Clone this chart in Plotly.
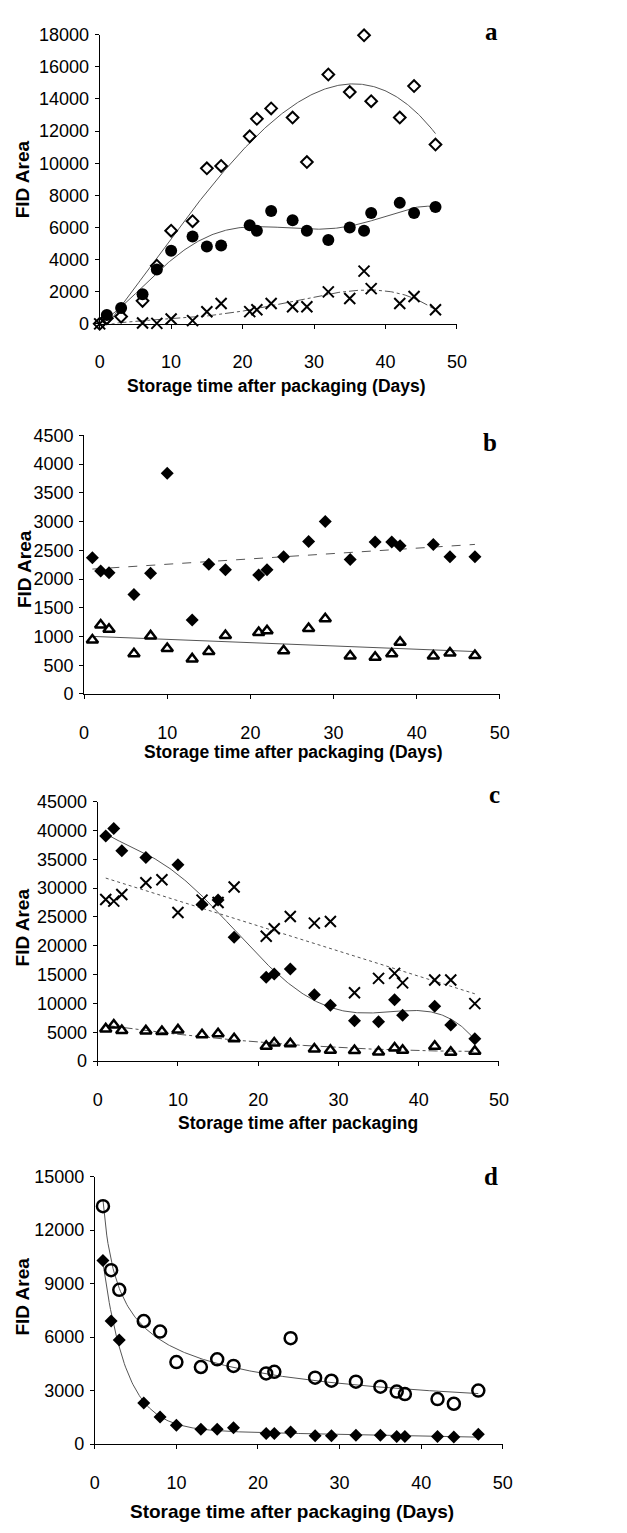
import numpy as np
import plotly.graph_objects as go

W, H = 627, 1533

# ---------------- data ----------------
# Panel a
a_days_diamond = [0, 1, 3, 6, 8, 10, 13, 15, 17, 21, 22, 24, 27, 29, 32, 35, 37, 38, 42, 44, 47]
a_diamond = [0, 350, 450, 1430, 3620, 5800, 6390, 9680, 9830, 11670, 12760, 13410, 12840, 10070,
             15520, 14430, 17960, 13860, 12840, 14800, 11160]
a_days_circle = [1, 3, 6, 8, 10, 13, 15, 17, 21, 22, 24, 27, 29, 32, 35, 37, 38, 42, 44, 47]
a_circle = [550, 980, 1840, 3380, 4550, 5430, 4810, 4870, 6140, 5790, 7020, 6450, 5790, 5220,
            6000, 5790, 6900, 7530, 6900, 7270]
a_days_cross = [0, 6, 8, 10, 13, 15, 17, 21, 22, 24, 27, 29, 32, 35, 37, 38, 42, 44, 47]
a_cross = [0, 50, 30, 300, 200, 750, 1270, 760, 880, 1270, 1060, 1060, 1990, 1580, 3280, 2190,
           1270, 1700, 880]

days = [1, 2, 3, 6, 8, 10, 13, 15, 17, 21, 22, 24, 27, 29, 32, 35, 37, 38, 42, 44, 47]

# Panel b
b_diamond = [2370, 2140, 2110, 1730, 2100, 3840, 1285, 2256, 2160, 2070, 2160, 2390, 2655, 3000,
             2340, 2645, 2645, 2580, 2600, 2390, 2390]
b_triangle = [940, 1200, 1125, 700, 1010, 790, 610, 740, 1016, 1070, 1100, 750, 1140, 1310,
              660, 640, 700, 900, 660, 714, 670]

# Panel c
c_days_diamond = [1, 2, 3, 6, 10, 13, 15, 17, 21, 22, 24, 27, 29, 32, 35, 37, 38, 42, 44, 47]
c_diamond = [39020, 40330, 36450, 35320, 34060, 27170, 27910, 21470, 14520, 15090, 15950, 11500,
             9680, 7010, 6840, 10650, 7970, 9510, 6270, 3870]
c_cross = [28020, 27740, 28880, 30930, 31440, 25750, 27910, 27510, 30190, 21640, 22950, 25060,
           23920, 24210, 11850, 14350, 15210, 13560, 14070, 14070, 9970]
c_triangle = [5580, 6270, 5300, 5240, 5130, 5410, 4560, 4730, 3870, 2560, 3130, 3020, 2110, 1880,
              1820, 1590, 2280, 1880, 2560, 1540, 1710]

# Panel d
d_circle = [13340, 9750, 8650, 6900, 6310, 4600, 4320, 4750, 4380, 3960, 4050, 5940, 3720, 3550,
            3500, 3220, 2940, 2800, 2520, 2260, 3000]
d_diamond = [10300, 6900, 5830, 2300, 1510, 1050, 830, 830, 920, 590, 590, 680, 460, 460, 500,
             500, 420, 420, 420, 400, 550]

x_ticks = [0, 10, 20, 30, 40, 50]
x_title_days = "Storage time after packaging (Days)"
x_title_plain = "Storage time after packaging"
y_title = "FID Area"


# ---------------- trend fits (computed from the data) ----------------
def poly_fit(x, y, deg, x0, x1):
    p = np.polynomial.Polynomial.fit(np.array(x, float), np.array(y, float), deg)
    xs = np.linspace(x0, x1, 300)
    return xs, p(xs)


def power_fit(x, y, x0, x1):
    b, la = np.polyfit(np.log(x), np.log(y), 1)
    xs = np.linspace(x0, x1, 300)
    return xs, np.exp(la) * xs ** b


def exp_fit(x, y, x0, x1):
    x = np.array(x, float)
    y = np.array(y, float)
    best = None
    for k in np.linspace(0.05, 1.5, 400):
        M = np.column_stack([np.exp(-k * x), np.ones_like(x), x])
        coef = np.linalg.lstsq(M, y, rcond=None)[0]
        sse = ((M @ coef - y) ** 2).sum()
        if best is None or sse < best[0]:
            best = (sse, k, coef)
    _, k, c = best
    xs = np.linspace(x0, x1, 300)
    return xs, c[0] * np.exp(-k * xs) + c[1] + c[2] * xs


# ---------------- layout geometry (pixels) ----------------
panels = [
    dict(x0=97, x1=463, yt=25, yb=318, ymax=18000, dtick=2000),
    dict(x0=81, x1=507, yt=431, yb=693, ymax=4500, dtick=500),
    dict(x0=95, x1=506, yt=802, yb=1065, ymax=45000, dtick=5000),
    dict(x0=92, x1=510, yt=1182, yb=1453, ymax=15000, dtick=3000),
]

FONT = "Liberation Sans, Arial, sans-serif"
SERIF = "Liberation Serif, Times New Roman, serif"
LINE = "#555555"

fig = go.Figure()


def ax(i):
    return ("x" if i == 1 else f"x{i}"), ("y" if i == 1 else f"y{i}")


def add_markers(i, x, y, symbol, size, filled, lw=2):
    xa, ya = ax(i)
    fig.add_trace(go.Scatter(
        x=x, y=y, mode="markers", xaxis=xa, yaxis=ya, cliponaxis=False, showlegend=False,
        marker=dict(symbol=symbol, size=size, color="black",
                    line=dict(color="black", width=0 if filled else lw))))


def add_line(i, xy, dash="solid"):
    xa, ya = ax(i)
    fig.add_trace(go.Scatter(
        x=xy[0], y=xy[1], mode="lines", xaxis=xa, yaxis=ya, showlegend=False,
        line=dict(color=LINE, width=1, dash=dash)))


# Panel a
add_line(1, poly_fit(a_days_diamond, a_diamond, 3, 0, 47))
add_line(1, poly_fit([0] + a_days_circle, [0] + a_circle, 5, 0, 47))
add_line(1, poly_fit(a_days_cross, a_cross, 4, 0, 47), "dashdot")
add_markers(1, a_days_diamond, a_diamond, "diamond-open", 9, False, 2)
add_markers(1, a_days_circle, a_circle, "circle", 12, True)
add_markers(1, a_days_cross, a_cross, "x-thin-open", 11, False, 2)

# Panel b
add_line(2, poly_fit(days, b_diamond, 1, 1, 47), "dash")
add_line(2, poly_fit(days, b_triangle, 1, 1, 47))
add_markers(2, days, b_diamond, "diamond", 10, True)
add_markers(2, days, b_triangle, "triangle-up-open", 10, False, 2.5)

# Panel c
add_line(3, poly_fit(c_days_diamond, c_diamond, 6, 1, 47))
add_line(3, poly_fit(days, c_cross, 1, 1, 47), "dot")
add_line(3, poly_fit(days, c_triangle, 2, 1, 47), "dashdot")
add_markers(3, c_days_diamond, c_diamond, "diamond", 10, True)
add_markers(3, days, c_cross, "x-thin-open", 11, False, 2)
add_markers(3, days, c_triangle, "triangle-up-open", 10, False, 2.5)

# Panel d
add_line(4, power_fit(days, d_circle, 1, 47))
add_line(4, exp_fit(days, d_diamond, 1, 47))
add_markers(4, days, d_circle, "circle-open", 12, False, 2.5)
add_markers(4, days, d_diamond, "diamond", 10, True)

layout = dict(width=W, height=H, margin=dict(l=0, r=0, t=0, b=0),
              plot_bgcolor="white", paper_bgcolor="white",
              font=dict(family=FONT, color="black"))

for i, p in enumerate(panels, start=1):
    xk = "xaxis" if i == 1 else f"xaxis{i}"
    yk = "yaxis" if i == 1 else f"yaxis{i}"
    xa, ya = ax(i)
    layout[xk] = dict(domain=[p["x0"] / W, p["x1"] / W], anchor=ya, range=[0, 50],
                      tickvals=x_ticks, showgrid=False, zeroline=False, showline=True,
                      linecolor="black", linewidth=1, ticks="outside", ticklen=4,
                      tickcolor="black", tickfont=dict(size=18, family=FONT),
                      ticklabelstandoff=18)
    layout[yk] = dict(domain=[1 - p["yb"] / H, 1 - p["yt"] / H], anchor=xa,
                      range=[0, p["ymax"]], dtick=p["dtick"], tick0=0, tickformat="d",
                      showgrid=False, zeroline=False, showline=True, linecolor="black",
                      linewidth=1, ticks="outside", ticklen=4, tickcolor="black",
                      tickfont=dict(size=18, family=FONT), ticklabelstandoff=2)

fig.update_layout(**layout)

# Titles and panel letters
x_titles = [(x_title_days, 278, 381, 17.5), (x_title_days, 296, 752, 17.5),
            (x_title_plain, 300, 1128, 17.5), (x_title_days, 294, 1521, 19)]
y_titles = [(18, 172), (20, 567), (18, 930), (18, 1304)]
letters = [("a", 498, 22), ("b", 497, 438), ("c", 502, 795), ("d", 498, 1182)]

anns = []
for t, x, y, s in x_titles:
    anns.append(dict(text=f"<b>{t}</b>", x=x / W, y=1 - y / H, xref="paper", yref="paper",
                     showarrow=False, xanchor="center", yanchor="middle",
                     font=dict(size=s, family=FONT, color="black")))
for x, y in y_titles:
    anns.append(dict(text=f"<b>{y_title}</b>", x=x / W, y=1 - y / H, xref="paper", yref="paper",
                     showarrow=False, xanchor="center", yanchor="middle", textangle=-90,
                     font=dict(size=19, family=FONT, color="black")))
for t, x, y in letters:
    anns.append(dict(text=f"<b>{t}</b>", x=x / W, y=1 - y / H, xref="paper", yref="paper",
                     showarrow=False, xanchor="center", yanchor="middle",
                     font=dict(size=25, family=SERIF, color="black")))
fig.update_layout(annotations=anns)

fig.write_html("out.html")
